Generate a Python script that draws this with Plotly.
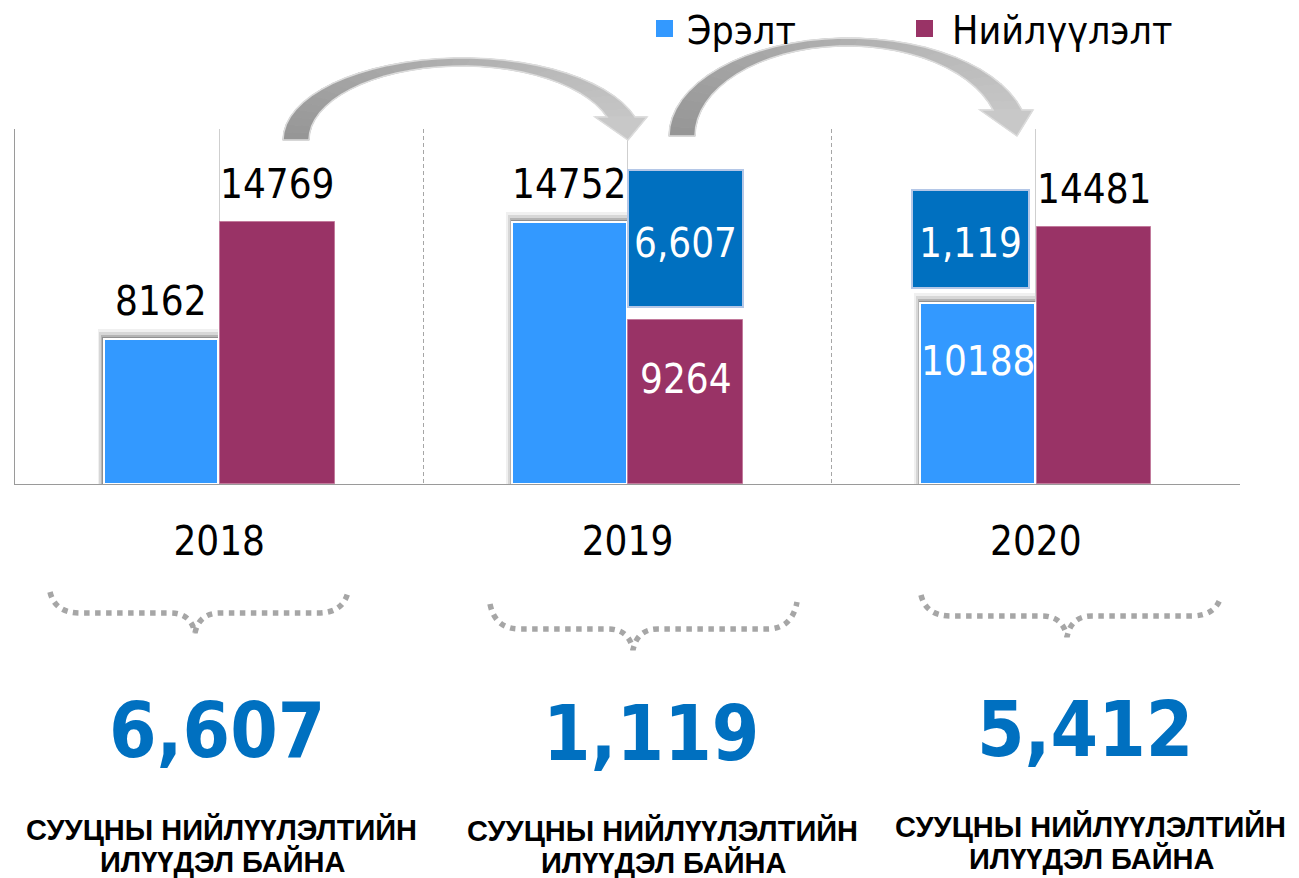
import math
import plotly.graph_objects as go

# ---------------- data ----------------
YEARS = ["2018", "2019", "2020"]
SERIES = ["Эрэлт", "Нийлүүлэлт"]
DEMAND = [8162, 14752, 10188]
SUPPLY = [14769, 9264, 14481]
CARRY_YEARS = [1, 2]                 # category index of the carried-over boxes
CARRY_LABELS = ["6,607", "1,119"]
SURPLUS = ["6,607", "1,119", "5,412"]
CAPTION_1 = "СУУЦНЫ НИЙЛҮҮЛЭЛТИЙН"
CAPTION_2 = "ИЛҮҮДЭЛ БАЙНА"

# ---------------- layout constants ----------------
PAGE = 8                             # default body margin of the html page
W, H = 1299 - PAGE, 878 - PAGE
L, R, T, B = 15, 1240, 129, 484      # plot area in page pixels
YMAX = 20000
PXU = YMAX / (B - T)                 # data units per pixel

BLUE = "#3399FF"
MAROON = "#993366"
DARK = "#0070C0"
FONT = "DejaVu Sans Condensed, DejaVu Sans, sans-serif"
CAPFONT = "Liberation Sans, Arial, sans-serif"

# decorative carried-over boxes (pixel extents from layout)
BOX_BASE_PX = [307, 288]
BOX_TOP_PX = [170, 190]
BOX_OFFSET = [0.0, -0.3027]
BOX_WIDTH = [0.284, 0.2866]

D_OFF, D_W = -0.283, 0.281
S_OFF, S_W = 0.002, 0.281


def px(x):
    return (x - L) / (R - L)


def py(y):
    return (B - y) / (B - T)


xs = list(range(len(YEARS)))
fig = go.Figure()

# soft shadow behind the demand bars
for k, op in [(10, 0.06), (7, 0.10), (4, 0.16), (2, 0.2)]:
    dx = k / ((R - L) / 3)
    fig.add_trace(go.Bar(
        x=xs, y=[v + k * PXU for v in DEMAND], offset=D_OFF - dx * 0.6,
        width=D_W + dx * 0.6, marker=dict(color=f"rgba(0,0,0,{op})", line=dict(width=0)),
        showlegend=False, hoverinfo="skip"))

fig.add_trace(go.Bar(
    x=xs, y=DEMAND, name=SERIES[0], offset=D_OFF, width=D_W,
    marker=dict(color=BLUE, line=dict(color="white", width=2))))
fig.add_trace(go.Bar(
    x=xs, y=SUPPLY, name=SERIES[1], offset=S_OFF, width=S_W,
    marker=dict(color=MAROON, line=dict(color="#c27a9c", width=1))))

box_base = [(B - p) * PXU for p in BOX_BASE_PX]
box_h = [(BOX_BASE_PX[i] - BOX_TOP_PX[i]) * PXU for i in range(len(BOX_BASE_PX))]
fig.add_trace(go.Bar(
    x=CARRY_YEARS, y=box_h, base=box_base, offset=BOX_OFFSET, width=BOX_WIDTH,
    marker=dict(color=DARK, line=dict(color="#b4c7e7", width=2)),
    showlegend=False, hoverinfo="skip"))

ann = []
# value labels
inside = {("d", 2), ("s", 1)}
for i, v in enumerate(DEMAND):
    ins = ("d", i) in inside
    ann.append(dict(x=i + D_OFF + D_W / 2, y=v, xref="x", yref="y", text=str(v),
                    showarrow=False, xanchor="center", yanchor="middle", borderpad=0,
                    yshift=-58 if ins else 38,
                    font=dict(family=FONT, size=40, color="white" if ins else "black")))
for i, v in enumerate(SUPPLY):
    ins = ("s", i) in inside
    ann.append(dict(x=i + S_OFF + S_W / 2, y=v, xref="x", yref="y", text=str(v),
                    showarrow=False, xanchor="center", yanchor="middle", borderpad=0,
                    yshift=-59 if ins else 38,
                    font=dict(family=FONT, size=40, color="white" if ins else "black")))
for j, c in enumerate(CARRY_YEARS):
    ann.append(dict(x=c + BOX_OFFSET[j] + BOX_WIDTH[j] / 2, y=box_base[j] + box_h[j] / 2,
                    xref="x", yref="y", text=CARRY_LABELS[j], showarrow=False,
                    xanchor="center", yanchor="middle", yshift=-4, borderpad=0,
                    font=dict(family=FONT, size=40, color="white")))

# legend (manual, to match the reference spacing)
leg_sq = [(656, 673), (916, 933)]
leg_tx = [686, 951]
leg_col = [BLUE, MAROON]
shapes = []
for k in range(2):
    shapes.append(dict(type="rect", xref="paper", yref="paper",
                       x0=px(leg_sq[k][0]), x1=px(leg_sq[k][1]), y0=py(37), y1=py(20),
                       fillcolor=leg_col[k], line=dict(width=0)))
    ann.append(dict(x=px(leg_tx[k]), y=py(31), xref="paper", yref="paper", text=SERIES[k],
                    showarrow=False, xanchor="left", yanchor="middle", borderpad=0,
                    font=dict(family=FONT, size=39, color="black")))

# big numbers and captions
big_x = [217, 651, 1085]
big_y = [730, 733, 729]
cap_x = [221, 662, 1090]
cap_y = [829, 830, 826]
for i in range(3):
    ann.append(dict(x=px(big_x[i]), y=py(big_y[i]), xref="paper", yref="paper",
                    text=f"<b>{SURPLUS[i]}</b>", showarrow=False, xanchor="center",
                    yanchor="middle", borderpad=0,
                    font=dict(family=FONT, size=76, color=DARK)))
    ann.append(dict(x=px(cap_x[i]), y=py(cap_y[i]), xref="paper", yref="paper",
                    text=f"<b>{CAPTION_1}</b>", showarrow=False, xanchor="center",
                    yanchor="middle", borderpad=0,
                    font=dict(family=CAPFONT, size=29, color="black")))
    ann.append(dict(x=px(cap_x[i] + 2), y=py(cap_y[i] + 32.5), xref="paper", yref="paper",
                    text=f"<b>{CAPTION_2}</b>", showarrow=False, xanchor="center",
                    yanchor="middle", borderpad=0,
                    font=dict(family=CAPFONT, size=29, color="black")))


def path_of(pts, close=True):
    s = "M " + " L ".join(f"{px(x):.5f},{py(y):.5f}" for x, y in pts)
    return s + (" Z" if close else "")


def arrow(tail_out, tail_in, base_y, top_out, top_in, shaft_out, shaft_in,
          wing_l, wing_r, head_y, tip, n=30):
    def ell(tail, top, shaft):
        ry = base_y - top
        s = (base_y - head_y) / ry
        c = math.sqrt(1 - s * s)
        rx = (shaft - tail) / (1 + c)
        cx = tail + rx
        te = math.asin(s)
        return cx, rx, ry, te

    eo = ell(tail_out, top_out, shaft_out)
    ei = ell(tail_in, top_in, shaft_in)

    def pt(e, u):
        cx, rx, ry, te = e
        th = math.pi + u * (te - math.pi)
        return (cx + rx * math.cos(th), base_y - ry * math.sin(th))

    us = [k / n for k in range(n + 1)]
    outer = [pt(eo, u) for u in us]
    inner = [pt(ei, u) for u in us]
    c0, c1 = 150, 198
    for k in range(n):
        g = int(c0 + (c1 - c0) * (k + 0.5) / n)
        col = f"rgb({g},{g},{g})"
        shapes.append(dict(type="path", xref="paper", yref="paper",
                           path=path_of([outer[k], outer[k + 1], inner[k + 1], inner[k]]),
                           fillcolor=col, line=dict(color=col, width=1), layer="above"))
    head = [(shaft_out, head_y), (wing_r, head_y), tip, (wing_l, head_y), (shaft_in, head_y)]
    shapes.append(dict(type="path", xref="paper", yref="paper", path=path_of(head),
                       fillcolor="rgb(200,200,200)", line=dict(color="rgb(200,200,200)", width=1),
                       layer="above"))
    outline = outer + head[1:4] + inner[::-1]
    shapes.append(dict(type="path", xref="paper", yref="paper", path=path_of(outline),
                       fillcolor="rgba(0,0,0,0)", line=dict(color="#dcdcdc", width=1.5),
                       layer="above"))


arrow(283, 309, 140, 58, 66, 635, 607, 595, 647, 117, (628, 140))
arrow(669, 695, 136, 38, 46, 1022, 993, 980, 1033, 110, (1017, 136))


def brace(xl, yl, yh, xc, yd, xr, yr):
    p = (f"M {px(xl)},{py(yl)} Q {px(xl + 5)},{py(yh)} {px(xl + 30)},{py(yh)} "
         f"L {px(xc - 25)},{py(yh)} Q {px(xc - 4)},{py(yh)} {px(xc)},{py(yd)} "
         f"Q {px(xc + 4)},{py(yh)} {px(xc + 25)},{py(yh)} "
         f"L {px(xr - 30)},{py(yh)} Q {px(xr - 5)},{py(yh)} {px(xr)},{py(yr)}")
    shapes.append(dict(type="path", xref="paper", yref="paper", path=p,
                       line=dict(color="#a6a6a6", width=5.5, dash="dot")))


brace(50, 592, 613, 195, 633, 348, 592)
brace(490, 604, 629, 633, 650, 797, 602)
brace(921, 595, 616, 1067, 637, 1221, 596)

fig.update_layout(
    width=W, height=H, barmode="overlay",
    margin=dict(l=L - PAGE, r=W - (R - PAGE), t=T - PAGE, b=H - (B - PAGE), pad=0),
    plot_bgcolor="white", paper_bgcolor="white",
    font=dict(family=FONT, color="black"),
    showlegend=False,
    annotations=ann, shapes=shapes,
    xaxis=dict(range=[-0.5, 2.5], tickvals=xs, ticktext=YEARS, showgrid=True,
               gridcolor="#cfcfcf", gridwidth=1, showline=True, linecolor="#9a9a9a",
               linewidth=1, ticks="", ticklabelstandoff=22,
               tickfont=dict(family=FONT, size=40, color="black"), zeroline=False,
               minor=dict(tickvals=[0.5, 1.5, 2.5], showgrid=True, gridcolor="#a6a6a6",
                          griddash="4px,3px", gridwidth=1)),
    yaxis=dict(range=[0, YMAX], showticklabels=False, showgrid=False, zeroline=False,
               showline=True, linecolor="#9a9a9a", linewidth=1, ticks=""),
    bargap=0,
)

fig.write_html("out.html")
